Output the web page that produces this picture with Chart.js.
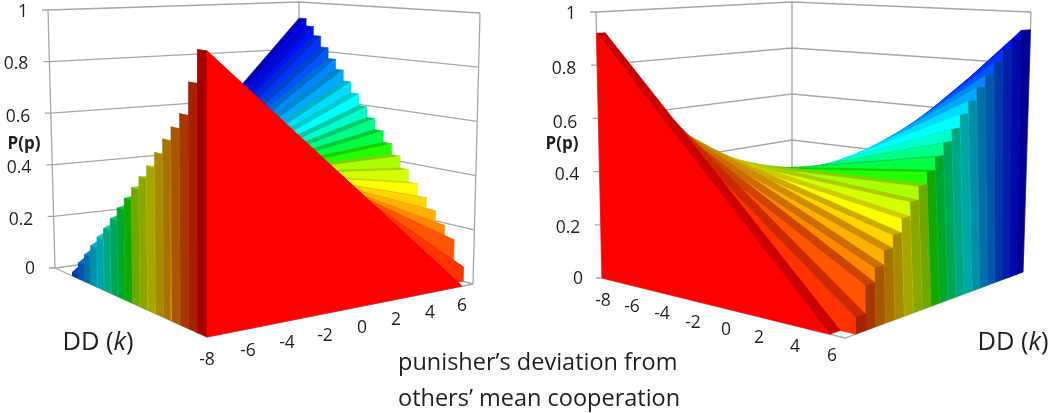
<!DOCTYPE html>
<html><head><meta charset="utf-8">
<script src="https://cdn.jsdelivr.net/npm/chart.js@4"></script>
<style>html,body{margin:0;padding:0;background:#fff}#w{width:1051px;height:413px;position:relative}canvas{filter:blur(.45px)}</style>
</head><body><div id="w"><canvas id="c"></canvas></div>
<script>
// ---------- data ----------
const devTicks = ['-8','-6','-4','-2','0','2','4','6'];
const pTicks = ['0','0.2','0.4','0.6','0.8','1'];
const devMin = -8, devMax = 6;
const seriesNames = Array.from({length:21},(_, i)=>'k'+i);
// P(p) of each DD series at deviation -8 (front series first); below 0 = the area meets the floor inside the axis
const pAtDevMin = [.92,.81,.70,.65,.603,.55,.497,.452,.406,.36,.317,.27,.226,.185,.143,.10,.06,.015,-.03,-.075,-.12];
// P(p) of each DD series at deviation +6
const pAtDevMax = [-.05,.053,.144,.19,.237,.279,.326,.374,.42,.463,.508,.552,.595,.642,.686,.731,.772,.817,.862,.90,.931];
const seriesColors = ['#ff0000','#ff3300','#ff5500','#ff8800','#ffb000','#ffd500','#ffff00','#d4ff00','#aaff00','#22ff00','#00ff44','#00ff88','#00ffcc','#00ffff','#00ddff','#00aaff','#0088ff','#0055ff','#0033ff','#0011ff','#0000e8'];

// ---------- view set-up of the two 3-D panels ----------
// corners: [dev,k] = a[-8,front] b[6,front] c[6,back] d[-8,back]
const panels = [
 {wallAtMin:true,
  floor:[[207,337],[473,284],[299,236],[55,268]], roof:[[207,26],[480,13],[299,2],[48,10]],
  visLeft:3, visBack:2, visRight:1,
  ptLabels:[[30,269],[21,220],[19,168],[18,117],[16,64],[23,12]], pName:[24,144],
  devLabels:[[207,360],[248,351],[287,343],[325,336],[362,328],[396,320],[430,313],[462,306]], dd:[98,343]},
 {wallAtMin:false,
  floor:[[602,278],[845,338],[1023,272],[792,232]], roof:[[596,12],[845,20],[1031,12],[792,2]],
  visLeft:0, visBack:3, visRight:2,
  ptLabels:[[578,279],[568,228],[567,175],[565,123],[564,69],[571,14]], pName:[562,144],
  devLabels:[[603,301],[632,307],[662,314],[693,323],[726,330],[759,338],[795,347],[832,356]], dd:[1013,343]}
];
const caption = [['punisher’s deviation from',398,363],['others’ mean cooperation',398,399]];
const gridColor = '#a6a6a6', FONT = '"Open Sans"';

function squareToQuad(q){
  const [[x0,y0],[x1,y1],[x2,y2],[x3,y3]] = q;
  const dx1=x1-x2,dx2=x3-x2,sx=x0-x1+x2-x3,dy1=y1-y2,dy2=y3-y2,sy=y0-y1+y2-y3;
  const den=dx1*dy2-dx2*dy1, g=(sx*dy2-dx2*sy)/den, h=(dx1*sy-sx*dy1)/den;
  const a=x1-x0+g*x1,b=x3-x0+h*x3,c=x0,d=y1-y0+g*y1,e=y3-y0+h*y3,f=y0;
  return (u,v)=>{const w=g*u+h*v+1;return [(a*u+b*v+c)/w,(d*u+e*v+f)/w];};
}
function makeProjector(pn){
  const F=squareToQuad(pn.floor),R=squareToQuad(pn.roof);
  return (dev,v,p)=>{const u=(dev-devMin)/(devMax-devMin);const a=F(u,v),b=R(u,v);
    return {x:a[0]+(b[0]-a[0])*p,y:a[1]+(b[1]-a[1])*p};};
}
function shade(hex,f){const n=parseInt(hex.slice(1),16);
  return `rgb(${Math.round((n>>16&255)*f)},${Math.round((n>>8&255)*f)},${Math.round((n&255)*f)})`;}

const paint=[];
function face(pts,color){paint.push({type:'scatter',data:[...pts,pts[0]],showLine:true,fill:'shape',backgroundColor:color,borderColor:color,borderWidth:.6,pointRadius:0,clip:false,tension:0});}
function line(pts,w){paint.push({type:'scatter',data:pts,showLine:true,fill:false,borderColor:gridColor,borderWidth:w||1.3,pointRadius:0,clip:false,tension:0});}

panels.forEach(pn=>{
  const P=makeProjector(pn);
  const cornerOf=[[devMin,0],[devMax,0],[devMax,1],[devMin,1]];
  const L=cornerOf[pn.visLeft],B=cornerOf[pn.visBack],Rr=cornerOf[pn.visRight];
  pTicks.forEach(t=>{const v=+t;
    const a=P(L[0],L[1],v),b=P(B[0],B[1],v),c=P(Rr[0],Rr[1],v);
    line([{x:a.x-6,y:a.y},a,b,c]);});
  [L,B,Rr].forEach(C=>line([P(C[0],C[1],0),P(C[0],C[1],1)]));
  const front=cornerOf.find(C=>C!==L&&C!==B&&C!==Rr);
  line([P(L[0],L[1],0),P(front[0],front[1],0),P(Rr[0],Rr[1],0)]);
  const n=seriesNames.length;
  for(let i=n-1;i>=0;i--){
    const k0=i/n,k1=(i+1)/n;let pa=pAtDevMin[i],pb=pAtDevMax[i],start=devMin,end=devMax;
    const slope=(pb-pa)/(devMax-devMin);
    if(pa<0){start=devMin-pa/slope;pa=0;}
    if(pb<0){end=devMin-pAtDevMin[i]/slope;pb=0;}
    const col=seriesColors[i];
    face([P(start,k0,pa),P(end,k0,pb),P(end,k1,pb),P(start,k1,pa)],shade(col,.8));
    if(pn.wallAtMin){ if(pa>0) face([P(devMin,k0,0),P(devMin,k0,pa),P(devMin,k1,pa),P(devMin,k1,0)],shade(col,.65)); }
    else { if(pb>0) face([P(devMax,k0,0),P(devMax,k0,pb),P(devMax,k1,pb),P(devMax,k1,0)],shade(col,.65)); }
    face([P(start,k0,0),P(start,k0,pa),P(end,k0,pb),P(end,k0,0)],col);
  }
});
paint.forEach((d,i)=>{d.order=paint.length-i;});

const textPlugin={id:'texts',afterDraw(ch){
  const c=ch.ctx;c.save();c.fillStyle='#1f1f1f';c.textBaseline='middle';c.textAlign='center';
  panels.forEach(pn=>{
    c.font=`17.5px ${FONT}`;
    pTicks.forEach((t,i)=>c.fillText(t,pn.ptLabels[i][0],pn.ptLabels[i][1]));
    devTicks.forEach((t,i)=>c.fillText(t,pn.devLabels[i][0],pn.devLabels[i][1]));
    c.font=`bold 17px ${FONT}`;c.fillText('P(p)',pn.pName[0],pn.pName[1]);
    const s1='DD (',s2='k',s3=')';
    c.font=`25.5px ${FONT}`;const w1=c.measureText(s1).width,w3=c.measureText(s3).width;
    c.font=`italic 25.5px ${FONT}`;const w2=c.measureText(s2).width;
    let x=pn.dd[0]-(w1+w2+w3)/2;c.textAlign='left';
    c.font=`25.5px ${FONT}`;c.fillText(s1,x,pn.dd[1]);x+=w1;
    c.font=`italic 25.5px ${FONT}`;c.fillText(s2,x,pn.dd[1]);x+=w2;
    c.font=`25.5px ${FONT}`;c.fillText(s3,x,pn.dd[1]);c.textAlign='center';
  });
  c.textAlign='left';c.font=`23.5px ${FONT}`;
  caption.forEach(([t,x,y])=>c.fillText(t,x,y));
  c.restore();
}};

new Chart(document.getElementById('c'),{
  type:'scatter',
  data:{datasets:paint},
  options:{responsive:true,maintainAspectRatio:false,animation:false,
    layout:{padding:0},
    plugins:{legend:{display:false},tooltip:{enabled:false},title:{display:false}},
    scales:{x:{type:'linear',min:0,max:1051,display:false},y:{type:'linear',min:0,max:413,reverse:true,display:false}}},
  plugins:[textPlugin]
});
</script></body></html>
